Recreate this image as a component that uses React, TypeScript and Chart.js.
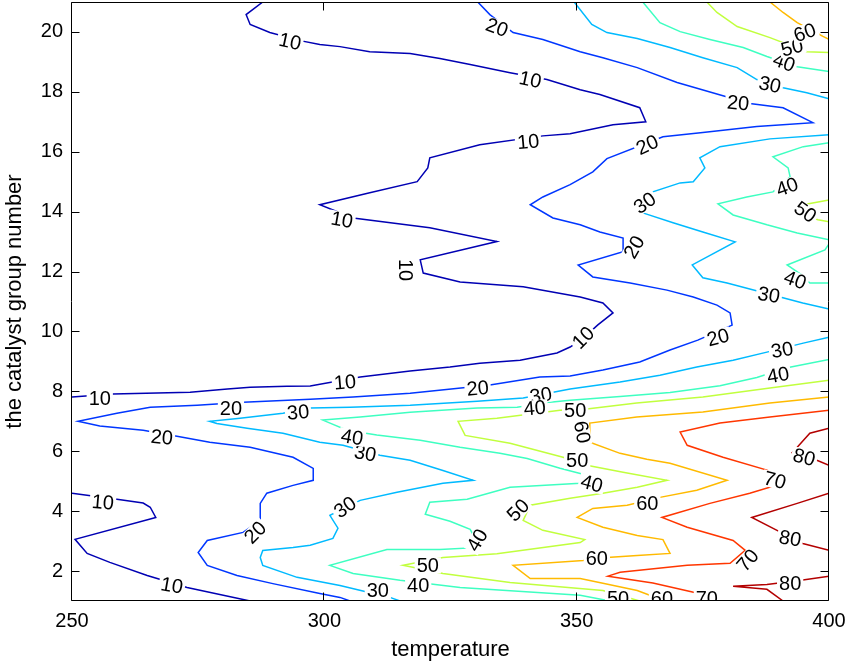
import React, { useEffect, useRef } from "react";
import { Chart, registerables } from "chart.js";

Chart.register(...registerables);

const xTicks = [250, 300, 350, 400];
const yTicks = [2, 4, 6, 8, 10, 12, 14, 16, 18, 20];
const levels = [10, 20, 30, 40, 50, 60, 70, 80];
const levelColors = ["#0000b3", "#0036ff", "#00baff", "#3effc1", "#c1ff3e", "#ffba00", "#ff3600", "#b30000"];

type P = [number, number];

const c10a: P[] = [[287.8,21],[284.5,20.58],[285.3,20.25],[289.2,19.98],[295.2,19.71],[299.1,19.58],[303.1,19.51],[309.0,19.34],[317.0,19.28],[322.9,19.11],[328.9,18.91],[336.8,18.64],[344.1,18.41],[350.7,18.07],[354.6,17.91],[362.5,17.47],[363.7,17.0],[357.2,16.9],[348.7,16.6],[343.3,16.53],[330.8,16.23],[320.9,15.8],[320.5,15.46],[318.4,15.0],[309.0,14.63],[299.1,14.23],[305.7,13.79],[320.9,13.46],[334.2,13.0],[319.0,12.39],[319.6,11.95],[326.9,11.65],[339.4,11.49],[350.7,11.15],[355.2,10.95],[357.2,10.62],[354.2,10.22],[351.3,9.78],[348.7,9.48],[346.1,9.28],[338.8,9.04],[330.8,8.94],[324.9,8.81],[317.0,8.68],[307.1,8.48],[297.2,8.18],[292.6,8.17],[285.3,8.14],[280.8,8.08],[273.4,7.97],[258.1,7.91],[250,7.81]];
const c10b: P[] = [[250,4.6],[258.9,4.4],[264.1,4.27],[265.5,4.13],[266.6,3.79],[250.6,3.06],[253.0,2.59],[257.5,2.29],[264.9,1.85],[272.8,1.45],[285.3,1.0]];

const c20a: P[] = [[330.4,21],[332.8,20.58],[337.4,19.98],[343.3,19.75],[350.7,19.34],[355.2,19.14],[362.0,18.81],[369.9,18.31],[384.3,17.61],[390.9,17.47],[396.8,16.97],[385.7,16.84],[375.0,16.64],[367.1,16.5],[356.0,15.77],[353.2,15.33],[348.7,14.9],[343.3,14.49],[340.8,14.23],[345.3,13.79],[350.7,13.56],[354.6,13.32],[359.2,13.12],[359.2,12.66],[350.3,12.22],[353.2,11.82],[360.6,11.62],[367.9,11.38],[373.1,11.15],[377.8,10.88],[380.4,10.62],[380.8,10.21],[374.0,9.71],[368.5,9.38],[362.5,8.98],[355.2,8.71],[348.7,8.51],[342.7,8.48],[332.8,8.21],[317.0,7.94],[305.7,7.81],[297.2,7.74],[283.9,7.64],[274.8,7.54],[265.5,7.47],[258.9,7.27],[251.2,7.0],[255.5,6.84],[264.1,6.7],[270.8,6.5],[277.3,6.3],[285.3,6.13],[293.8,5.8],[297.8,5.43],[297.8,5.03],[293.8,4.86],[288.6,4.6],[287.3,4.26],[287.3,3.69],[283.9,3.29],[276.8,3.02],[275.0,2.62],[276.8,2.19],[282.7,1.85],[289.8,1.58],[299.1,1.25],[303.1,1.12],[305.1,1.0]];

const c30a: P[] = [[349.5,21],[353.0,20.25],[356.0,19.98],[362.0,19.78],[368.5,19.48],[375.0,19.14],[381.8,18.81],[385.7,18.41],[390.9,18.14],[395.6,17.97],[400,17.77]];
const c30b: P[] = [[400,16.57],[388.3,16.43],[378.4,16.17],[374.4,15.8],[375.4,15.46],[373.1,15.0],[370.5,14.96],[364.5,14.63],[363.1,13.96],[369.1,13.63],[375.0,13.32],[381.4,12.99],[372.9,12.22],[375.0,11.79],[379.8,11.62],[390.3,11.15],[394.8,10.95],[400,10.75]];
const c30c: P[] = [[400,9.81],[394.9,9.61],[387.7,9.31],[381.0,9.04],[373.8,8.81],[366.5,8.54],[358.6,8.31],[348.7,8.08],[339.4,7.78],[330.3,7.67],[317.0,7.54],[305.1,7.47],[297.2,7.44],[291.8,7.27],[283.3,7.1],[277.3,7.0],[278.7,6.93],[284.7,6.77],[291.8,6.6],[299.1,6.3],[303.7,6.2],[311.0,5.87],[317.0,5.7],[323.5,5.36],[329.5,5.03],[323.5,4.93],[314.4,4.63],[307.1,4.36],[301.1,3.86],[302.7,3.43],[301.7,3.09],[297.2,2.86],[293.8,2.79],[287.8,2.69],[287.3,2.45],[287.8,2.19],[294.6,1.79],[303.1,1.52],[313.0,1.12],[315,1.0]];

const c40a: P[] = [[363.1,21],[366.5,20.31],[370.5,20.01],[376.4,19.75],[383.0,19.48],[387.7,19.18],[393.7,18.84],[400,18.68]];
const c40b: P[] = [[400,16.3],[394.9,16.17],[388.9,15.83],[391.9,15.46],[392.3,15.16],[388.9,14.66],[383.7,14.49],[378.0,14.26],[381.0,13.89],[387.7,13.56],[393.7,13.29],[400,13.06]];
const c40c: P[] = [[400,12.92],[399.2,12.72],[391.7,12.22],[394.5,11.9],[396.2,11.62],[400,11.62]];
const c40d: P[] = [[400,9.06],[391.7,8.79],[385.7,8.46],[378.4,8.19],[368.5,7.96],[358.6,7.83],[348.7,7.7],[344.7,7.64],[338.2,7.47],[330.3,7.44],[317.0,7.3],[307.1,7.14],[299.7,7.04],[304.5,6.7],[310.4,6.54],[319.0,6.37],[326.9,6.13],[334.8,5.93],[340.2,5.76],[346.7,5.43],[350.7,5.26],[355.0,5.05],[350.7,4.93],[336.8,4.8],[328.3,4.4],[320.9,4.3],[320.0,3.9],[324.9,3.66],[328.9,3.39],[330.8,2.79],[322.9,2.72],[312.4,2.72],[301.1,2.19],[305.7,1.92],[315.0,1.69],[326.9,1.45],[350.7,1.19],[356.6,1.0]];

const c50a: P[] = [[375.8,21],[377.8,20.65],[381.8,20.18],[388.3,19.81],[395.6,19.34],[400,19.31]];
const c50b: P[] = [[400,14.39],[394.9,14.23],[393.3,13.99],[397.8,13.73],[400,13.66]];
const c50c: P[] = [[400,8.37],[388.3,8.11],[375.0,7.81],[361.9,7.61],[352.0,7.41],[346.7,7.37],[334.2,7.1],[326.5,7.0],[327.9,6.53],[336.8,6.27],[347.3,5.8],[352.0,5.53],[359.2,5.3],[367.9,5.03],[362.0,4.8],[355.2,4.6],[348.7,4.43],[340.8,4.2],[339.4,3.69],[343.3,3.36],[351.6,3.05],[350.7,2.95],[334.2,2.58],[323.5,2.45],[315.6,2.19],[323.5,1.92],[336.8,1.62],[355.2,1.35],[362.5,1.0]];

const c60a: P[] = [[388.3,21],[390.9,20.65],[393.7,20.31],[398.8,19.85],[400,19.75]];
const c60b: P[] = [[400,7.81],[388.3,7.61],[375.0,7.31],[361.9,7.14],[352.6,6.94],[352.6,6.3],[358.6,5.93],[363.9,5.73],[368.5,5.6],[379.8,5.03],[373.8,4.7],[366.5,4.46],[360.0,4.2],[353.2,4.09],[350.1,3.79],[355.2,3.46],[362.0,3.19],[367.1,3.05],[368.5,2.59],[362.0,2.52],[356.0,2.45],[351.3,2.35],[337.4,2.19],[340.8,1.75],[350.7,1.75],[355.2,1.59],[362.0,1.35],[367.5,1.0]];

const c70a: P[] = [[400,7.37],[388.3,7.14],[378.4,6.94],[370.5,6.64],[371.9,6.2],[379.0,5.8],[387.7,5.37],[390.9,4.93],[384.3,4.6],[376.4,4.26],[366.9,3.79],[371.9,3.46],[381.0,3.02],[383.4,2.69],[380.4,2.26],[371.9,2.19],[358.6,1.96],[356.2,1.83],[365.1,1.6],[373.8,1.27],[378.4,1.0]];

const c80a: P[] = [[400,6.77],[396.2,6.6],[393.7,6.13],[392.7,5.95],[395.0,5.8],[397.6,5.7],[400,5.53]];
const c80b: P[] = [[400,4.6],[393.7,4.26],[384.7,3.79],[389.7,3.36],[394.8,2.92],[400,2.69]];
const c80c: P[] = [[400,1.83],[394.8,1.7],[387.7,1.55],[381.0,1.49],[387.7,1.39],[390.9,1.0]];

const contourSegments: [number, P[]][] = [
  [10, c10a], [10, c10b],
  [20, c20a],
  [30, c30a], [30, c30b], [30, c30c],
  [40, c40a], [40, c40b], [40, c40c], [40, c40d],
  [50, c50a], [50, c50b], [50, c50c],
  [60, c60a], [60, c60b],
  [70, c70a],
  [80, c80a], [80, c80b], [80, c80c],
];

// [level, temperature, catalyst, rotation(deg)]
const contourLabels: [number, number, number, number][] = [
  [10, 293.2, 19.68, 12], [10, 340.8, 18.41, 12], [10, 340.4, 16.33, -5], [10, 303.5, 13.73, 10],
  [10, 316.0, 12.05, 90], [10, 351.3, 9.79, -45], [10, 304.1, 8.3, -5], [10, 255.5, 7.77, 0],
  [10, 256.1, 4.3, 5], [10, 269.8, 1.52, 10],
  [20, 334.2, 20.15, 20], [20, 382.0, 17.63, 5], [20, 364.0, 16.23, -25], [20, 361.4, 12.82, -60],
  [20, 378.0, 9.8, -15], [20, 330.4, 8.1, -5], [20, 281.5, 7.44, 0], [20, 267.8, 6.47, 5], [20, 286.3, 3.29, -45],
  [30, 388.3, 18.24, 12], [30, 363.5, 14.29, -35], [30, 388.1, 11.22, 10], [30, 390.7, 9.38, -10],
  [30, 342.9, 7.87, -10], [30, 294.8, 7.3, -5], [30, 308.1, 5.93, 10], [30, 304.1, 4.13, -35], [30, 310.6, 1.34, 0],
  [40, 391.1, 18.98, 20], [40, 391.7, 14.83, -20], [40, 393.3, 11.72, 20], [40, 389.9, 8.54, -10],
  [40, 341.7, 7.44, -5], [40, 305.5, 6.47, 10], [40, 353.0, 4.92, 15], [40, 330.3, 3.03, -60], [40, 318.6, 1.52, 0],
  [50, 392.7, 19.48, -15], [50, 395.3, 13.99, 35], [50, 349.7, 7.35, 0], [50, 350.1, 5.68, 0],
  [50, 338.4, 4.03, -45], [50, 320.5, 2.19, 0], [50, 358.2, 1.1, 0],
  [60, 395.2, 19.98, -20], [60, 351.1, 6.64, 80], [60, 364.0, 4.24, 0], [60, 354.0, 2.42, 0], [60, 366.9, 1.1, 0],
  [70, 389.3, 5.03, 15], [70, 383.9, 2.36, -50], [70, 375.8, 1.1, 0],
  [80, 395.1, 5.8, 15], [80, 392.3, 3.09, 10], [80, 392.3, 1.59, 0],
];

const FONT = '"Liberation Sans", Arial, Helvetica, sans-serif';

const labelPlugin = {
  id: "clabels",
  afterDatasetsDraw(chart: any) {
    const { ctx, chartArea: a, scales } = chart;
    const xs = scales.x, ys = scales.y;
    ctx.save();
    ctx.beginPath();
    ctx.rect(a.left, a.top, a.right - a.left, a.bottom - a.top);
    ctx.clip();
    ctx.font = `20px ${FONT}`;
    ctx.textAlign = "center";
    ctx.textBaseline = "middle";
    for (const [lv, t, n, rot] of contourLabels) {
      const px = xs.getPixelForValue(t);
      const py = ys.getPixelForValue(n);
      const txt = String(lv);
      ctx.save();
      ctx.translate(px, py);
      ctx.rotate((rot * Math.PI) / 180);
      const w = ctx.measureText(txt).width;
      ctx.fillStyle = "#ffffff";
      ctx.fillRect(-w / 2 - 2, -8, w + 4, 16);
      ctx.fillStyle = "#000000";
      ctx.fillText(txt, 0, 1);
      ctx.restore();
    }
    ctx.restore();
  },
};

const framePlugin = {
  id: "frame",
  afterDraw(chart: any) {
    const { ctx, chartArea: a, scales } = chart;
    const xs = scales.x, ys = scales.y;
    const L = Math.round(a.left) - 0.5;
    const R = Math.round(a.right) - 0.5;
    const T = Math.round(a.top) + 0.5;
    const B = Math.round(a.bottom) - 0.5;
    ctx.save();
    ctx.strokeStyle = "#000";
    ctx.lineWidth = 1;
    ctx.beginPath();
    ctx.rect(L, T, R - L, B - T);
    const tl = 8;
    for (const v of xTicks) {
      const px = Math.round(xs.getPixelForValue(v)) - 0.5;
      ctx.moveTo(px, B); ctx.lineTo(px, B - tl);
      ctx.moveTo(px, T); ctx.lineTo(px, T + tl);
    }
    for (const v of yTicks) {
      const py = Math.round(ys.getPixelForValue(v)) + 0.5;
      ctx.moveTo(L, py); ctx.lineTo(L + tl, py);
      ctx.moveTo(R, py); ctx.lineTo(R - tl, py);
    }
    ctx.stroke();
    ctx.restore();
  },
};

export default function App() {
  const ref = useRef<HTMLCanvasElement | null>(null);
  useEffect(() => {
    if (!ref.current) return;
    const datasets = contourSegments.map(([lv, pts]) => ({
      data: pts.map(([x, y]) => ({ x, y })),
      showLine: true,
      borderColor: levelColors[levels.indexOf(lv)],
      backgroundColor: levelColors[levels.indexOf(lv)],
      borderWidth: 1.5,
      pointRadius: 0,
      tension: 0,
      fill: false,
    }));
    const chart = new Chart(ref.current, {
      type: "scatter",
      data: { datasets },
      plugins: [labelPlugin, framePlugin],
      options: {
        responsive: false,
        animation: false,
        events: [],
        layout: { padding: { left: 0, right: 23, top: 2, bottom: 0 } },
        plugins: { legend: { display: false }, tooltip: { enabled: false } },
        scales: {
          x: {
            type: "linear",
            min: 250,
            max: 400,
            afterBuildTicks: (s: any) => { s.ticks = xTicks.map((v) => ({ value: v })); },
            afterFit: (s: any) => { s.height = 65; s.paddingLeft = 0; s.paddingRight = 0; },
            grid: { display: false, drawTicks: false },
            border: { display: false },
            ticks: { color: "#000", font: { size: 20, family: FONT }, padding: 8, maxRotation: 0 },
            title: { display: true, text: "temperature", color: "#000", font: { size: 22, family: FONT }, padding: { top: 0, bottom: 3 } },
          },
          y: {
            type: "linear",
            min: 1,
            max: 21,
            afterBuildTicks: (s: any) => { s.ticks = yTicks.map((v) => ({ value: v })); },
            afterFit: (s: any) => { s.width = 72; s.paddingTop = 0; s.paddingBottom = 0; },
            grid: { display: false, drawTicks: false },
            border: { display: false },
            ticks: { color: "#000", font: { size: 20, family: FONT }, padding: 9 },
            title: { display: true, text: "the catalyst group number", color: "#000", font: { size: 22, family: FONT }, padding: { top: 2, bottom: 0 } },
          },
        },
      },
    });
    return () => chart.destroy();
  }, []);
  return (
    <div style={{ position: "absolute", left: 0, top: 0, width: 852, height: 666, background: "#fff" }}>
      <canvas ref={ref} width={852} height={666} style={{ display: "block", width: 852, height: 666 }} />
    </div>
  );
}
